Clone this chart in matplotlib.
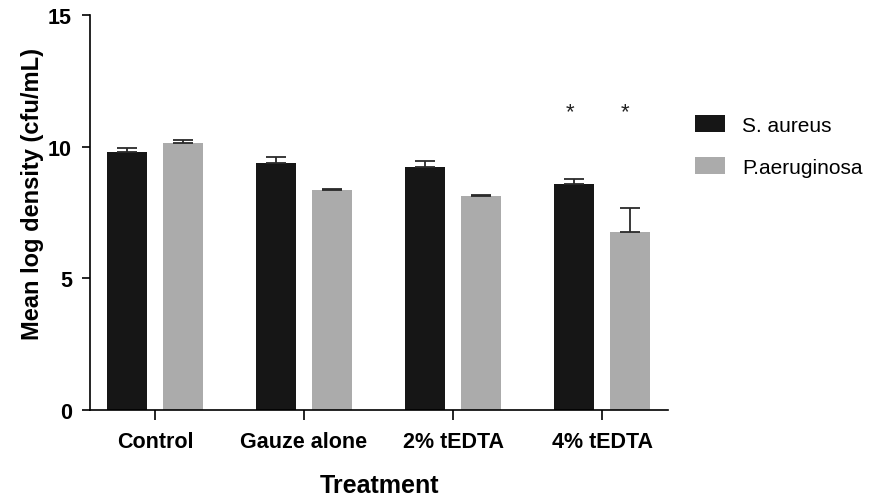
import numpy as np
import matplotlib
matplotlib.use('Agg')
import matplotlib.pyplot as plt
from matplotlib.patches import Patch

plt.rcParams['font.family'] = ['Liberation Sans', 'DejaVu Sans']

treatments = ["Control", "Gauze alone", "2% tEDTA", "4% tEDTA"]
species = ["S. aureus", "P.aeruginosa"]
s_aureus = [9.81, 9.40, 9.25, 8.57]
s_aureus_err = [0.15, 0.20, 0.20, 0.20]
p_aeruginosa = [10.16, 8.34, 8.13, 6.75]
p_aeruginosa_err = [0.11, 0.06, 0.03, 0.93]
signif = [[False, False, False, True], [False, False, False, True]]
star_y = 11.35

colors = ["#161616", "#ababab"]

fig = plt.figure(figsize=(8.72, 5.02), dpi=100)
ax = fig.add_axes([0.1032, 0.181, 0.663, 0.787])

x = np.arange(len(treatments))
w = 0.27
off = 0.186
for i, (vals, errs) in enumerate([(s_aureus, s_aureus_err), (p_aeruginosa, p_aeruginosa_err)]):
    xs = x + (-off if i == 0 else off)
    ax.bar(xs, vals, width=w, color=colors[i], edgecolor='none', zorder=2)
    ax.errorbar(xs, vals, yerr=[np.zeros(len(errs)), errs], fmt='none',
                ecolor='#2a2a2a', elinewidth=1.3, capsize=7, capthick=1.3, zorder=3)
    for xi, s in zip(xs, signif[i]):
        if s:
            ax.text(xi - 0.03, star_y, "*", ha='center', va='center', fontsize=16, color='#222222')

ax.set_xlim(-0.436, 3.443)
ax.set_ylim(0, 15)
ax.set_yticks([0, 5, 10, 15])
ax.set_xticks(x)
ax.set_xticklabels(treatments, fontsize=15.5, fontweight='bold')
for lab in ax.get_yticklabels():
    lab.set_fontsize(15.5)
    lab.set_fontweight('bold')
ax.spines['top'].set_visible(False)
ax.spines['right'].set_visible(False)
ax.spines['left'].set_linewidth(1.2)
ax.spines['bottom'].set_linewidth(1.2)
ax.tick_params(axis='y', length=6, width=1.2, pad=7)
ax.tick_params(axis='x', length=7, width=1.2, pad=8)
ax.set_ylabel("Mean log density (cfu/mL)", fontsize=17, fontweight='bold')
ax.set_xlabel("Treatment", fontsize=18, fontweight='bold')
ax.yaxis.set_label_coords(-0.1, 0.55)
ax.xaxis.set_label_coords(0.5, -0.19)
ax.xaxis.label.set_va('center')
ax.yaxis.label.set_va('center')

handles = [Patch(facecolor=c, edgecolor='none') for c in colors]
fig.legend(handles, species, loc='upper left', bbox_to_anchor=(0.797, 0.768),
           frameon=False, fontsize=15, handlelength=1.44, handleheight=0.87,
           labelspacing=1.05, handletextpad=0.82, borderpad=0, borderaxespad=0)

fig.savefig("out.png", dpi=100)
